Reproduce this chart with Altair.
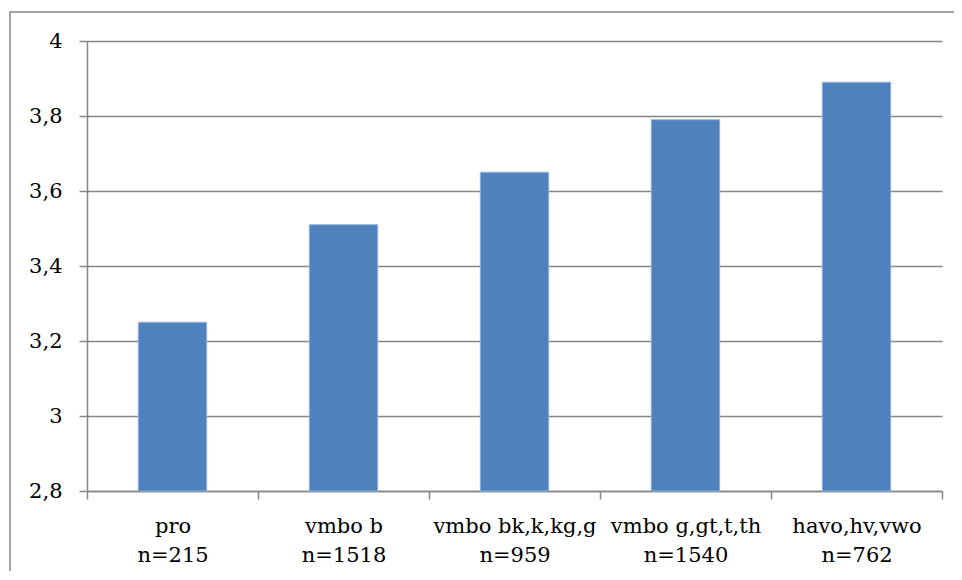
import altair as alt
import pandas as pd

categories = ["pro|n=215", "vmbo b|n=1518", "vmbo bk,k,kg,g|n=959", "vmbo g,gt,t,th|n=1540", "havo,hv,vwo|n=762"]
values = [3.25, 3.51, 3.65, 3.79, 3.89]
y_ticks = [2.8, 3.0, 3.2, 3.4, 3.6, 3.8, 4.0]
y_min, y_max = 2.8, 4.0

df = pd.DataFrame({"cat": categories, "val": values})

GRID = "#868686"
FONT = "DejaVu Serif"

bars = alt.Chart(df).mark_bar(
    width=alt.RelativeBandSize(0.4), color="#4F81BD", stroke="#8DB3E2", strokeWidth=1
).encode(
    x=alt.X("cat:N", sort=categories, title=None,
            scale=alt.Scale(paddingInner=0, paddingOuter=0),
            axis=alt.Axis(labelAngle=0, tickBand="extent", tickSize=8, tickColor=GRID,
                          tickWidth=1.5, domainColor=GRID, domainWidth=1.5,
                          labelExpr="split(datum.label, '|')", labelPadding=16,
                          labelLineHeight=29, labelFontSize=21, labelFont=FONT,
                          labelColor="#000000", grid=False)),
    y=alt.Y("val:Q", title=None,
            scale=alt.Scale(domain=[y_min, y_max], nice=False, zero=False),
            axis=alt.Axis(values=y_ticks, grid=True, gridColor=GRID, gridWidth=1.5,
                          tickSize=8, tickColor=GRID, tickWidth=1.5,
                          domainColor=GRID, domainWidth=1.5,
                          labelExpr="replace(format(datum.value, '.2~f'), '.', ',')",
                          labelPadding=17, labelFontSize=21, labelFont=FONT,
                          labelColor="#000000")),
    y2=alt.datum(y_min),
)

border = alt.Chart(pd.DataFrame({"a": [0]})).mark_rect(
    fill=None, stroke=GRID, strokeWidth=1.5
).encode(
    x=alt.value(-77), x2=alt.value(1000), y=alt.value(-29), y2=alt.value(700)
)

chart = alt.layer(border, bars).properties(
    width=855, height=450,
    autosize=alt.AutoSizeParams(type="none"),
    padding={"left": 79, "top": 33, "right": 12, "bottom": 80},
    background="white",
).configure(font=FONT).configure_view(stroke=None)

chart.save("out.html", embed_options={"renderer": "svg", "actions": False})
